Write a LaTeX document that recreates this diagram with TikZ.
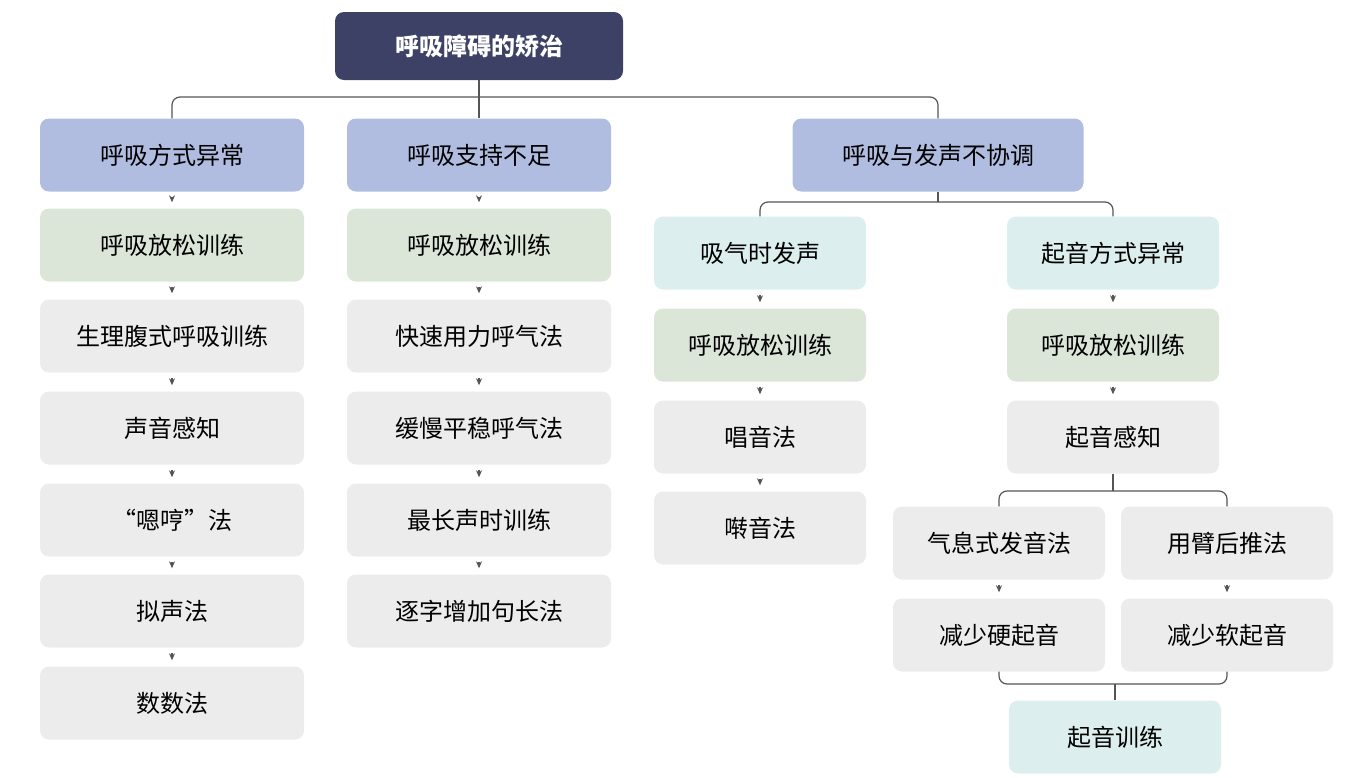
\documentclass[tikz,border=0pt]{standalone}
\usepackage{fontspec}
\setmainfont{Noto Sans CJK SC}
\usetikzlibrary{positioning,arrows.meta}
\definecolor{navy}{HTML}{3D4166}
\definecolor{lav}{HTML}{B0BDE0}
\definecolor{sage}{HTML}{DBE6D9}
\definecolor{pale}{HTML}{ECECEC}
\definecolor{aqua}{HTML}{DCEFEE}
\definecolor{wire}{HTML}{555555}
\begin{document}
\begin{tikzpicture}[x=1pt,y=-1pt,
  box/.style={rounded corners=9pt,minimum height=73pt,font=\fontsize{24}{28}\selectfont,inner sep=0pt},
  wide/.style={box,minimum width=264pt},
  narrow/.style={box,minimum width=212pt},
  head/.style={fill=navy,text=white,font=\bfseries\fontsize{24}{28}\selectfont},
  way/.style={fill=lav},
  relax/.style={fill=sage},
  plain/.style={fill=pale},
  kind/.style={fill=aqua},
  link/.style={draw=wire,line width=1.2pt},
  tip/.style={link,-{Stealth[length=7pt,width=6pt]}}]
  \useasboundingbox (0,0) rectangle (1356,777);
  \node[box,head,minimum width=288pt,minimum height=68pt] (root) at (479,46) {呼吸障碍的矫治};
  % column one
  \node[wide,way] (a1) at (172,155) {呼吸方式异常};
  \node[wide,relax] (a2) at (172,245) {呼吸放松训练};
  \node[wide,plain] (a3) at (172,336) {生理腹式呼吸训练};
  \node[wide,plain] (a4) at (172,428) {声音感知};
  \node[wide,plain] (a5) at (172,520) {“嗯哼”法};
  \node[wide,plain] (a6) at (172,611) {拟声法};
  \node[wide,plain] (a7) at (172,703) {数数法};
  % column two
  \node[wide,way] (b1) at (479,155) {呼吸支持不足};
  \node[wide,relax] (b2) at (479,245) {呼吸放松训练};
  \node[wide,plain] (b3) at (479,336) {快速用力呼气法};
  \node[wide,plain] (b4) at (479,428) {缓慢平稳呼气法};
  \node[wide,plain] (b5) at (479,520) {最长声时训练};
  \node[wide,plain] (b6) at (479,611) {逐字增加句长法};
  % column three
  \node[box,way,minimum width=291pt] (c0) at (938,155) {呼吸与发声不协调};
  \node[narrow,kind] (c1) at (760,253) {吸气时发声};
  \node[narrow,relax] (c2) at (760,345) {呼吸放松训练};
  \node[narrow,plain] (c3) at (760,437) {唱音法};
  \node[narrow,plain] (c4) at (760,528) {啭音法};
  \node[narrow,kind] (d1) at (1113,253) {起音方式异常};
  \node[narrow,relax] (d2) at (1113,345) {呼吸放松训练};
  \node[narrow,plain] (d3) at (1113,437) {起音感知};
  \node[narrow,plain] (e1) at (999,543) {气息式发音法};
  \node[narrow,plain] (e2) at (999,635) {减少硬起音};
  \node[narrow,plain] (f1) at (1227,543) {用臂后推法};
  \node[narrow,plain] (f2) at (1227,635) {减少软起音};
  \node[narrow,kind] (g1) at (1115,737) {起音训练};
  % trees
  \draw[link,rounded corners=8pt] (a1.north) |- (root.south |- 0,97) -| (c0.north);
  \draw[link] (root.south) -- (b1.north);
  \draw[link,rounded corners=8pt] (c1.north) |- (c0.south |- 0,202) -| (d1.north);
  \draw[link] (c0.south) -- (c0.south |- 0,202);
  \draw[link,rounded corners=8pt] (e1.north) |- (d3.south |- 0,491) -| (f1.north);
  \draw[link] (d3.south) -- (d3.south |- 0,491);
  \draw[link,rounded corners=8pt] (e2.south) |- (g1.north |- 0,684) -| (f2.south);
  \draw[link] (g1.north |- 0,684) -- (g1.north);
  % arrows
  \foreach \u/\v in {a1/a2,a2/a3,a3/a4,a4/a5,a5/a6,a6/a7,b1/b2,b2/b3,b3/b4,b4/b5,b5/b6,
                     c1/c2,c2/c3,c3/c4,d1/d2,d2/d3,e1/e2,f1/f2}
    \draw[tip,shorten >=6pt,shorten <=5pt] (\u.south) -- (\v.north);
\end{tikzpicture}
\end{document}
